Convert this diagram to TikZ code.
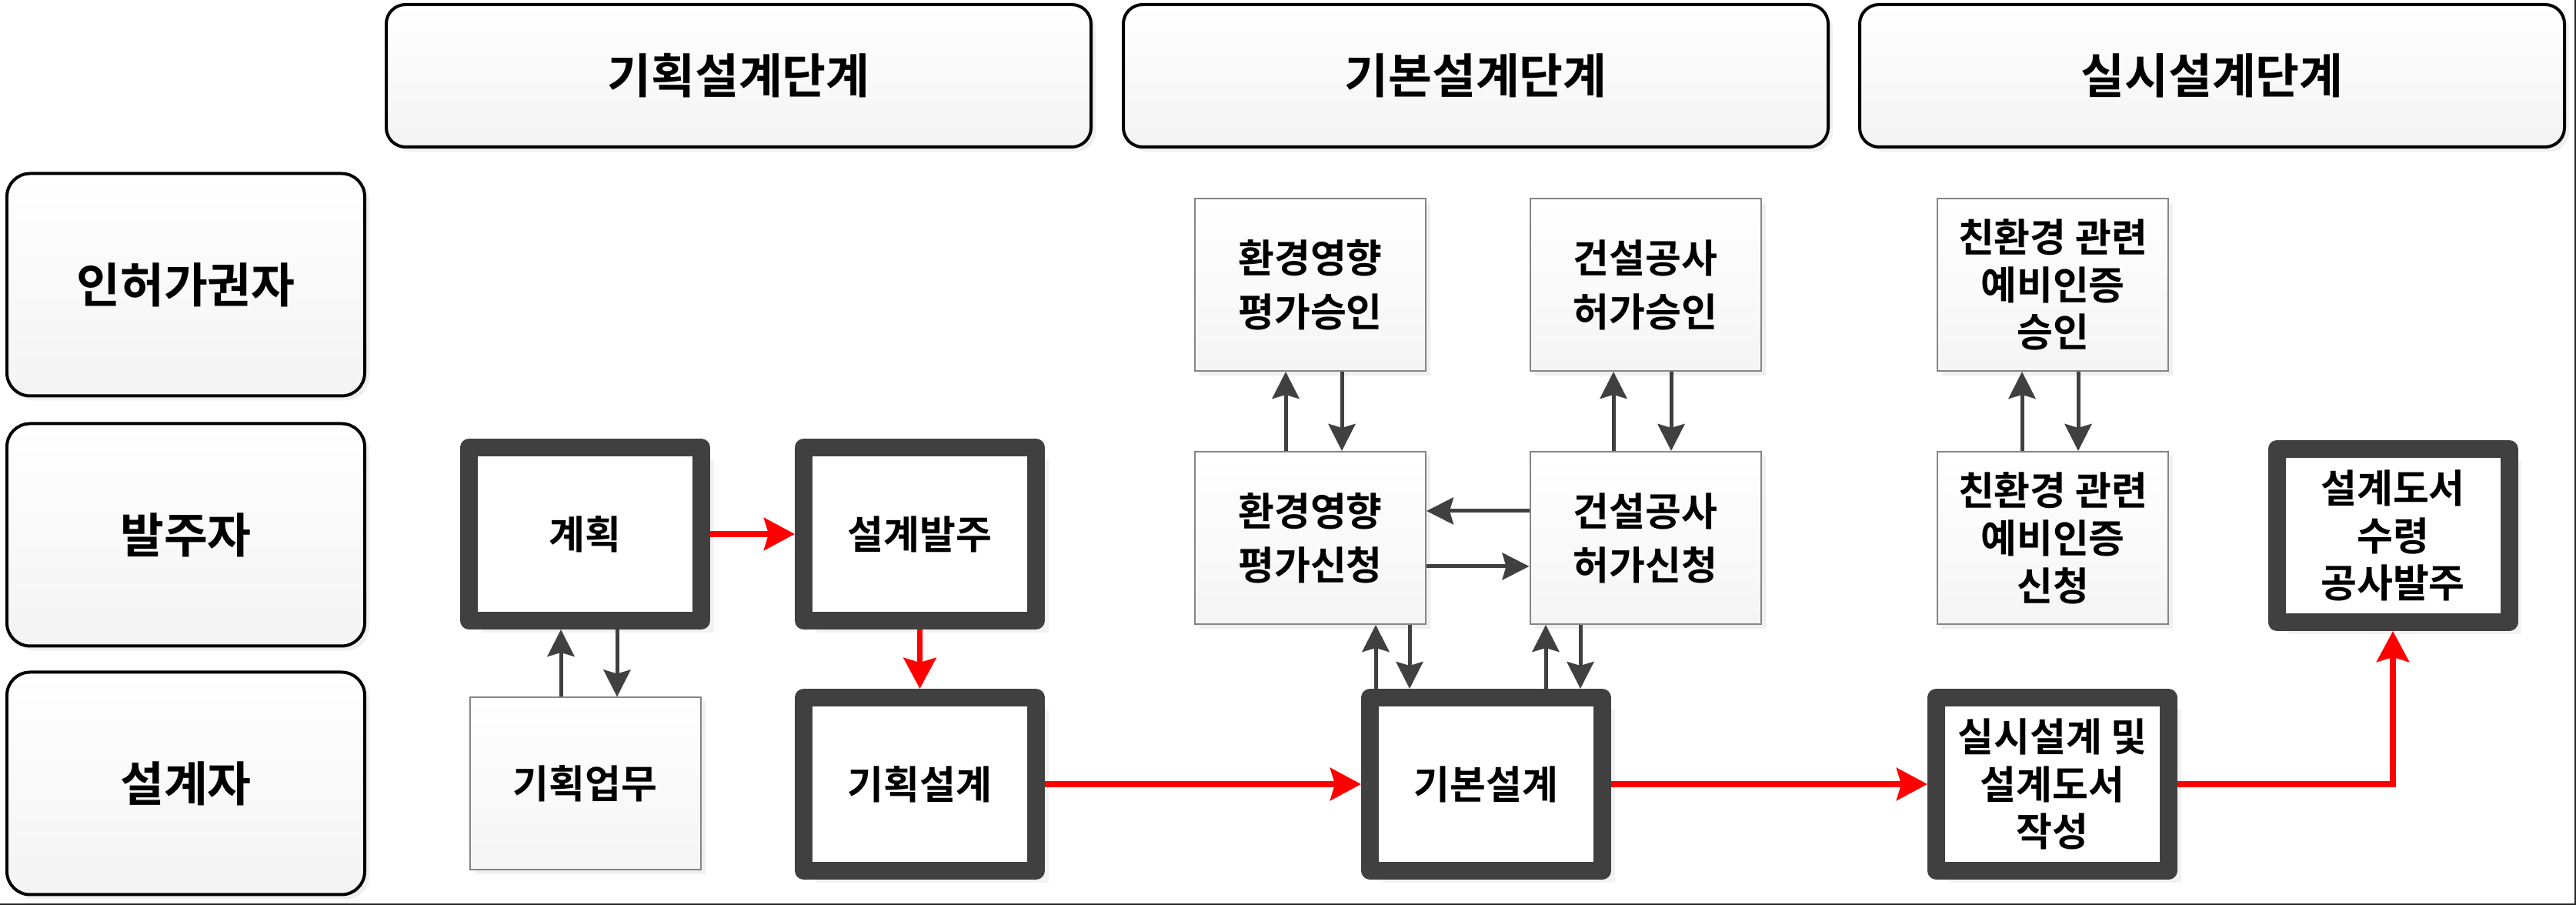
\documentclass[tikz,border=0pt]{standalone}
\usepackage{fontspec}
\setmainfont{Noto Sans CJK KR}[BoldFont=* Bold]
\usetikzlibrary{calc,positioning,arrows.meta,shadows}

\definecolor{boxgray}{HTML}{404040}
\definecolor{linegray}{HTML}{858585}

\tikzset{
  phase/.style={draw=black,line width=0.04cm,rounded corners=0.25cm,
    top color=white,bottom color=gray!9,minimum width=9.16cm,minimum height=1.85cm,
    font=\bfseries\fontsize{17.6}{20}\selectfont,
    drop shadow={shadow xshift=0.06cm,shadow yshift=-0.06cm,opacity=0.12}},
  actor/.style={phase,rounded corners=0.3cm,minimum width=4.65cm,minimum height=2.89cm},
  work/.style={draw=boxgray,line width=0.23cm,line join=round,fill=white,
    minimum width=3.02cm,minimum height=2.25cm,align=center,
    font=\bfseries\fontsize{14.5}{17.6}\selectfont,
    drop shadow={shadow xshift=0.16cm,shadow yshift=-0.16cm,opacity=0.1}},
  permit/.style={draw=linegray,line width=0.02cm,top color=white,bottom color=gray!8,
    minimum width=3cm,minimum height=2.24cm,align=center,
    font=\bfseries\fontsize{14.5}{19.9}\selectfont,
    drop shadow={shadow xshift=0.06cm,shadow yshift=-0.06cm,opacity=0.12}},
  tight/.style={font=\bfseries\fontsize{14.5}{17.6}\selectfont},
  flow/.style={-{Stealth[length=0.40cm,width=0.42cm,inset=0.06cm]},draw=red,line width=0.075cm},
  link/.style={-{Stealth[length=0.35cm,width=0.35cm,inset=0.05cm]},draw=boxgray,line width=0.05cm},
}

\begin{document}
\begin{tikzpicture}

  \useasboundingbox (0,0) rectangle (33.48,11.76);

  % phases and actors
  \foreach \n/\x/\txt in {1/9.60/기획설계단계,2/19.18/기본설계단계,3/28.75/실시설계단계}{
    \node [phase] at(\x,10.775) (phase_\n) {\txt};
  }
  \foreach \n/\y/\txt in {1/8.06/인허가권자,2/4.81/발주자,3/1.58/설계자}{
    \node [actor] at(2.415,\y) (actor_\n) {\txt};
  }

  % owner and designer work
  \node [work] at(7.605,4.82) (plan) {계획};
  \node [work] at(11.955,4.82) (order) {설계발주};
  \node [permit] at(7.605,1.575) (task) {기획업무};
  \node [work] at(11.955,1.57) (concept) {기획설계};
  \node [work] at(19.315,1.57) (basic) {기본설계};
  \node [work] at(26.675,1.57) (detail) {실시설계 및\\설계도서\\작성};
  \node [work] at(31.10,4.80) (receive) {설계도서\\수령\\공사발주};

  % permits
  \node [permit] at(17.03,8.06) (envok) {환경영향\\평가승인};
  \node [permit] at(21.385,8.06) (conok) {건설공사\\허가승인};
  \node [permit] at(17.03,4.77) (envreq) {환경영향\\평가신청};
  \node [permit] at(21.385,4.77) (conreq) {건설공사\\허가신청};
  \node [permit,tight] at(26.68,8.06) (greenok) {친환경 관련\\예비인증\\승인};
  \node [permit,tight] at(26.68,4.77) (greenreq) {친환경 관련\\예비인증\\신청};

  % main flow
  \draw [flow] (plan.east) -- (order.west);
  \draw [flow] (order.south) -- (concept.north);
  \draw [flow] (concept.east) -- (basic.west);
  \draw [flow] (basic.east) -- (detail.west);
  \draw [flow] (detail.east) -| (receive.south);

  % back and forth
  \draw [link] ($(task.north)+(-0.315,0)$) -- ($(plan.south)+(-0.315,0)$);
  \draw [link] ($(plan.south)+(0.415,0)$) -- ($(task.north)+(0.415,0)$);
  \draw [link] ($(envreq.north)+(-0.32,0)$) -- ($(envok.south)+(-0.32,0)$);
  \draw [link] ($(envok.south)+(0.41,0)$) -- ($(envreq.north)+(0.41,0)$);
  \draw [link] ($(conreq.north)+(-0.415,0)$) -- ($(conok.south)+(-0.415,0)$);
  \draw [link] ($(conok.south)+(0.335,0)$) -- ($(conreq.north)+(0.335,0)$);
  \draw [link] ($(greenreq.north)+(-0.40,0)$) -- ($(greenok.south)+(-0.40,0)$);
  \draw [link] ($(greenok.south)+(0.33,0)$) -- ($(greenreq.north)+(0.33,0)$);
  \draw [link] ($(conreq.west)+(0,0.35)$) -- ($(envreq.east)+(0,0.35)$);
  \draw [link] ($(envreq.east)+(0,-0.37)$) -- ($(conreq.west)+(0,-0.37)$);

  \coordinate (b1) at ($(envreq.south)+(0.85,0)$);
  \coordinate (b2) at ($(envreq.south)+(1.29,0)$);
  \coordinate (b3) at ($(conreq.south)+(-1.295,0)$);
  \coordinate (b4) at ($(conreq.south)+(-0.845,0)$);
  \draw [link] (b1 |- basic.north) -- (b1);
  \draw [link] (b2) -- (b2 |- basic.north);
  \draw [link] (b3 |- basic.north) -- (b3);
  \draw [link] (b4) -- (b4 |- basic.north);

  % frame
  \draw [black!85,line width=0.025cm] (0,0.012) -- (33.468,0.012) -- (33.468,11.76);
\end{tikzpicture}
\end{document}
